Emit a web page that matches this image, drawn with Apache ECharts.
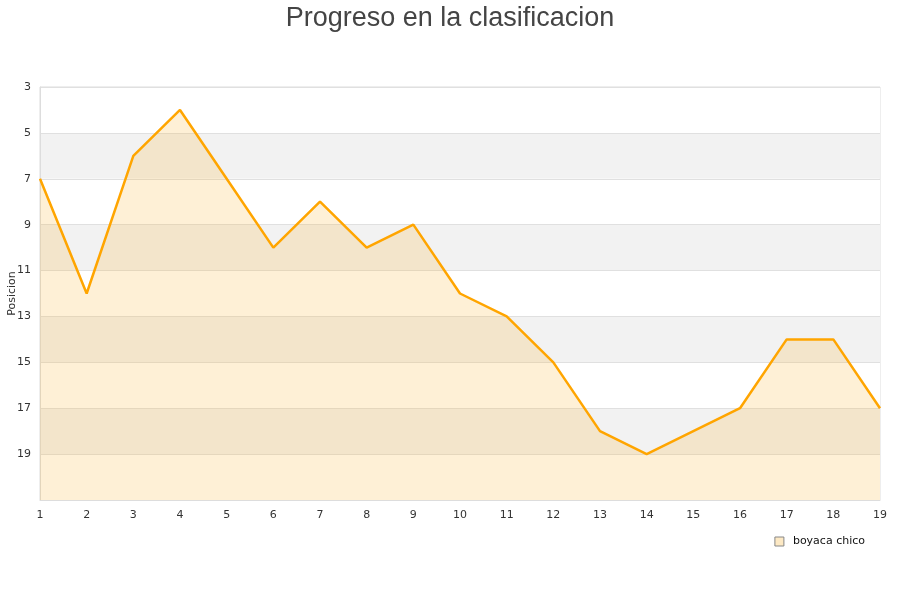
<!DOCTYPE html>
<html>
<head>
<meta charset="utf-8">
<script src="https://cdn.jsdelivr.net/npm/echarts@6/dist/echarts.min.js"></script>
<style>
  html, body { margin: 0; padding: 0; background: #fff; }
  #chart { width: 900px; height: 600px; }
</style>
</head>
<body>
<div id="chart"></div>
<script>
// Jornadas y posiciones
const jornadas = ['1', '2', '3', '4', '5', '6', '7', '8', '9', '10',
                  '11', '12', '13', '14', '15', '16', '17', '18', '19'];
const posiciones = [7, 12, 6, 4, 7, 10, 8, 10, 9, 12, 13, 15, 18, 19, 18, 17, 14, 14, 17];
const equipo = 'boyaca chico';
const titulo = 'Progreso en la clasificacion';

const chart = echarts.init(document.getElementById('chart'));

chart.setOption({
    animation: false,
    title: {
        text: titulo,
        left: 'center',
        top: 0,
        textStyle: {
            fontFamily: 'Liberation Sans',
            fontSize: 27,
            fontWeight: 'normal',
            color: '#444'
        }
    },
    grid: {
        left: 40,
        right: 20,
        top: 87,
        bottom: 100,
        containLabel: false,
        outerBoundsMode: 'none',
        show: true,
        borderColor: '#ddd',
        borderWidth: 1,
        backgroundColor: 'transparent'
    },
    legend: {
        right: 30,
        top: 531,
        itemWidth: 9,
        itemHeight: 9,
        textStyle: {
            fontFamily: 'DejaVu Sans',
            fontSize: 11,
            color: '#111',
            padding: [0, 0, 0, 4]
        },
        data: [{
            name: equipo,
            icon: 'rect',
            itemStyle: { color: '#fde9c4', borderColor: '#888', borderWidth: 1 }
        }]
    },
    xAxis: {
        type: 'category',
        data: jornadas,
        boundaryGap: false,
        axisLine: { lineStyle: { color: '#ddd' } },
        axisTick: { show: false },
        splitLine: { show: false },
        axisLabel: {
            fontFamily: 'DejaVu Sans',
            fontSize: 11,
            color: '#333',
            margin: 10
        }
    },
    yAxis: {
        type: 'value',
        inverse: true,
        min: 3,
        max: 21,
        interval: 2,
        name: 'Posicion',
        nameLocation: 'middle',
        nameGap: 22,
        nameMoveOverlap: false,
        nameTextStyle: {
            fontFamily: 'DejaVu Sans',
            fontSize: 11,
            color: '#333'
        },
        axisLine: { show: true, lineStyle: { color: '#ddd' } },
        axisTick: { show: false },
        axisLabel: {
            fontFamily: 'DejaVu Sans',
            fontSize: 11,
            color: '#333',
            margin: 9,
            formatter: v => (v === 21 ? '' : v)
        },
        splitLine: { show: true, lineStyle: { color: '#e0e0e0' } },
        splitArea: {
            show: true,
            areaStyle: { color: ['#ffffff', '#f2f2f2'] }
        }
    },
    series: [{
        name: equipo,
        type: 'line',
        data: posiciones,
        showSymbol: false,
        symbol: 'none',
        lineStyle: { color: '#ffa500', width: 2.5 },
        itemStyle: { color: '#ffa500' },
        areaStyle: {
            color: 'rgba(251, 186, 60, 0.3)',
            origin: 'end'
        }
    }]
});
</script>
</body>
</html>
